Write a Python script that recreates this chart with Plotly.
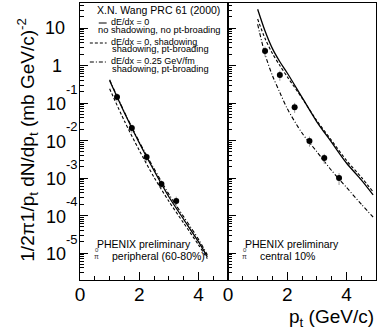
import plotly.graph_objects as go

# ---- data -------------------------------------------------------------
# PHENIX preliminary pi0 spectra
pt_periph = [1.25, 1.75, 2.25, 2.75, 3.25]
y_periph = [0.145, 0.0214, 0.00363, 6.9e-4, 2.45e-4]
err_periph = [25, 25, 25, 25, 30]          # percent

pt_central = [1.25, 1.75, 2.25, 2.75, 3.25, 3.75]
y_central = [2.45, 0.56, 0.0776, 0.00977, 0.00339, 0.0010]
err_central = [30, 30, 30, 30, 30, 35]      # percent

# X.N. Wang PRC 61 (2000) calculations
pt_curve_periph = [1.0, 1.5, 2.0, 2.5, 3.0, 3.5, 4.0, 4.3]
periph_no_shadow = [0.398, 0.0550, 0.00871, 0.00158, 3.16e-4, 7.94e-5, 2.0e-5, 7.9e-6]
periph_shadow = [0.240, 0.0331, 0.00550, 0.00105, 2.40e-4, 6.31e-5, 1.66e-5, 7.08e-6]
periph_eloss = [0.417, 0.0575, 0.00933, 0.00178, 3.72e-4, 9.33e-5, 2.34e-5, 8.91e-6]

pt_curve_central = [1.0, 1.25, 1.5, 1.75, 2.0, 2.5, 3.0, 3.5, 4.0, 4.5, 4.9]
central_no_shadow = [31.6, 8.32, 2.82, 1.26, 0.631, 0.141, 0.0316, 0.00891, 0.00251, 8.91e-4, 3.55e-4]
central_shadow = [17.4, 5.25, 2.09, 1.0, 0.501, 0.135, 0.0339, 0.0100, 0.00295, 0.00105, 4.27e-4]
central_eloss = [12.6, 2.0, 0.537, 0.191, 0.0708, 0.0158, 0.00501, 0.00158, 5.62e-4, 2.0e-4, 9.12e-5]

y_tick_exponents = [1, 0, -1, -2, -3, -4, -5]
x_tick_values = [0, 2, 4]

legend_rows = [
    ("dE/dx = 0", "no shadowing, no pt-broading", "solid"),
    ("dE/dx = 0, shadowing", "shadowing, pt-broading", "3px,2px"),
    ("dE/dx = 0.25 GeV/fm", "shadowing, pt-broading", "4px,2px,1px,2px"),
]

# ---- layout helpers ---------------------------------------------------
W, H = 381, 333
FONT = "Liberation Sans, Arial, sans-serif"


def px(x):
    return x / W


def py(y):
    return 1 - y / H


fig = go.Figure()

curve_styles = [
    ("solid", 1.3),
    ("3px,2px", 1.1),
    ("4px,2px,1px,2px", 1.1),
]

panels = [
    ("x", "y", pt_curve_periph, [periph_no_shadow, periph_shadow, periph_eloss],
     pt_periph, y_periph, err_periph),
    ("x2", "y2", pt_curve_central, [central_no_shadow, central_shadow, central_eloss],
     pt_central, y_central, err_central),
]

for xa, ya, pt_c, curves, pt_d, y_d, e_d in panels:
    for vals, (dash, w) in zip(curves, curve_styles):
        fig.add_trace(go.Scatter(
            x=pt_c, y=vals, mode="lines", xaxis=xa, yaxis=ya,
            line=dict(color="black", width=w, dash=dash, shape="spline", smoothing=0.8),
            showlegend=False, hoverinfo="skip"))
    fig.add_trace(go.Scatter(
        x=pt_d, y=y_d, mode="markers", xaxis=xa, yaxis=ya,
        marker=dict(color="black", size=6, symbol="circle"),
        error_y=dict(type="data", array=[v * p / 100 for v, p in zip(y_d, e_d)],
                     color="#9a9a9a", thickness=1, width=0),
        showlegend=False, hoverinfo="skip"))

y_dom = [py(280), py(3)]
y_rng = [-5.72, 1.667]

common_x = dict(range=[0, 5], tickvals=x_tick_values, ticks="inside", ticklen=8,
                tickcolor="black", showline=True, linecolor="black", linewidth=1,
                mirror=True, showgrid=False, zeroline=False, ticklabelstandoff=-3,
                tickfont=dict(family=FONT, size=19, color="black"),
                minor=dict(dtick=0.5, tick0=0, ticks="inside", ticklen=4,
                           tickcolor="black", showgrid=False))
common_y = dict(type="log", range=y_rng, domain=y_dom, ticks="inside", ticklen=8,
                tickcolor="black", showline=True, linecolor="black", linewidth=1,
                mirror=True, showgrid=False, zeroline=False, showticklabels=False,
                dtick=1,
                minor=dict(ticks="inside", ticklen=4, tickcolor="black",
                           showgrid=False, dtick="D1"))

fig.update_layout(
    width=W, height=H,
    margin=dict(l=0, r=0, t=0, b=0),
    paper_bgcolor="white", plot_bgcolor="white",
    xaxis=dict(domain=[px(76), px(226)], anchor="y", **common_x),
    xaxis2=dict(domain=[px(226), px(376)], anchor="y2", **common_x),
    yaxis=dict(anchor="x", **common_y),
    yaxis2=dict(anchor="x2", **common_y),
)

ann = []

# ROOT-style decade labels on the left axis
for e in y_tick_exponents:
    if e == 1:
        ann.append(dict(text="10", x=px(51), y=e, xref="paper", yref="y",
                        xanchor="center", yanchor="middle", showarrow=False,
                        font=dict(family=FONT, size=18, color="black")))
    elif e == 0:
        ann.append(dict(text="1", x=px(53), y=e, xref="paper", yref="y",
                        xanchor="center", yanchor="middle", showarrow=False,
                        font=dict(family=FONT, size=18, color="black")))
    else:
        ann.append(dict(text="10", x=px(52), y=e, xref="paper", yref="y",
                        xanchor="center", yanchor="middle", showarrow=False,
                        yshift=-1,
                        font=dict(family=FONT, size=18, color="black")))
        ann.append(dict(text=str(e), x=px(68), y=e, xref="paper", yref="y",
                        xanchor="center", yanchor="middle", showarrow=False,
                        yshift=14,
                        font=dict(family=FONT, size=13, color="black")))

# axis titles
ann.append(dict(text="1/2π1/p<sub>t</sub> dN/dp<sub>t</sub> (mb GeV/c)<sup>-2</sup>",
                x=px(22), y=py(140), xref="paper", yref="paper", textangle=-90,
                xanchor="center", yanchor="middle", showarrow=False,
                font=dict(family=FONT, size=19, color="black")))
ann.append(dict(text="p<sub>t</sub> (GeV/c)", x=px(376), y=py(318),
                xref="paper", yref="paper", xanchor="right", yanchor="middle",
                showarrow=False, font=dict(family=FONT, size=19, color="black")))

# legend block of the calculations
ann.append(dict(text="X.N. Wang PRC 61 (2000)", x=px(91), y=py(10),
                xref="paper", yref="paper", xanchor="left", yanchor="middle",
                showarrow=False, font=dict(family=FONT, size=10.5, color="black")))
row_y = [(22, 30), (42, 49), (61, 69)]
sample_x = [(95, 103), (86, 103), (86, 103)]
second_x = [92, 106, 106]
shapes = []
for (first, second, dash), (y1, y2), (sx0, sx1), x2 in zip(legend_rows, row_y, sample_x, second_x):
    ann.append(dict(text=first, x=px(105), y=py(y1), xref="paper", yref="paper",
                    xanchor="left", yanchor="middle", showarrow=False,
                    font=dict(family=FONT, size=9, color="black")))
    ann.append(dict(text=second, x=px(x2), y=py(y2), xref="paper", yref="paper",
                    xanchor="left", yanchor="middle", showarrow=False,
                    font=dict(family=FONT, size=9.3, color="black")))
    shapes.append(dict(type="line", xref="paper", yref="paper",
                       x0=px(sx0), x1=px(sx1), y0=py(y1 + 1), y1=py(y1 + 1),
                       line=dict(color="black", width=1, dash=dash)))

# data labels in each panel
for x0, label in [(91, "peripheral (60-80%)"), (241, "central 10%")]:
    ann.append(dict(text="PHENIX preliminary", x=px(x0), y=py(244),
                    xref="paper", yref="paper", xanchor="left", yanchor="middle",
                    showarrow=False, font=dict(family=FONT, size=10.5, color="black")))
    ann.append(dict(text=label, x=px(x0 + 15), y=py(256),
                    xref="paper", yref="paper", xanchor="left", yanchor="middle",
                    showarrow=False, font=dict(family=FONT, size=10.5, color="black")))
    ann.append(dict(text="0", x=px(x0 + 2), y=py(250), xref="paper", yref="paper",
                    xanchor="center", yanchor="middle", showarrow=False,
                    font=dict(family=FONT, size=6, color="#333")))
    ann.append(dict(text="π", x=px(x0 + 2), y=py(256), xref="paper", yref="paper",
                    xanchor="center", yanchor="middle", showarrow=False,
                    font=dict(family=FONT, size=7, color="#333")))

fig.update_layout(annotations=ann, shapes=shapes)

fig.write_html("out.html")
